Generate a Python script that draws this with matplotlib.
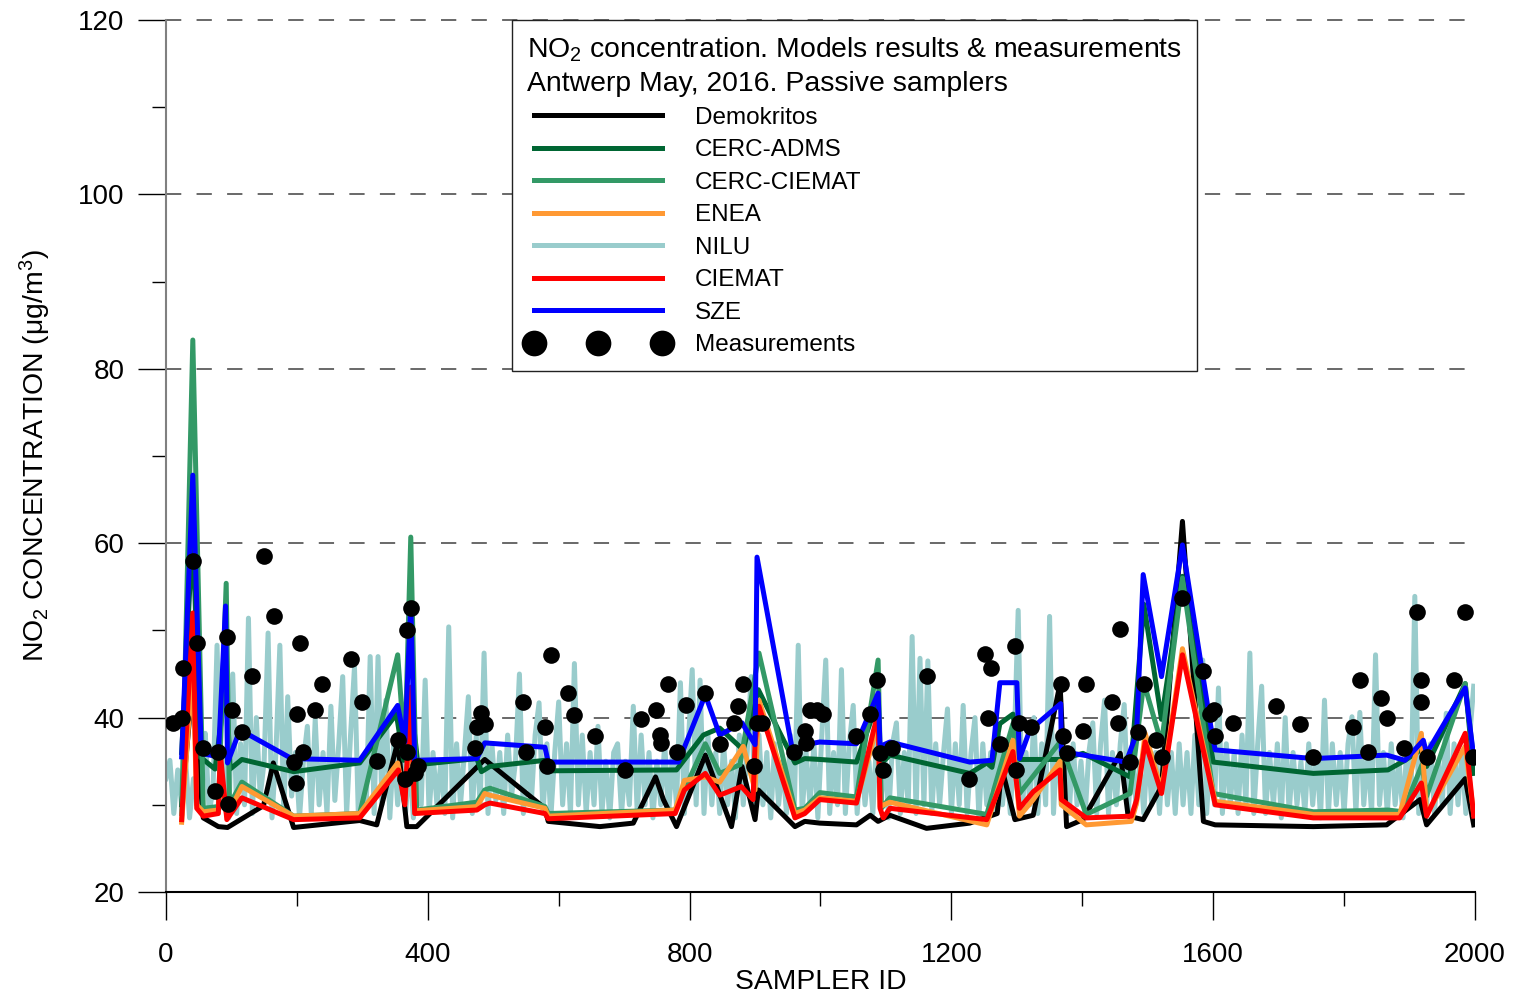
import matplotlib
matplotlib.use("Agg")
import matplotlib.pyplot as plt
from matplotlib.lines import Line2D
from matplotlib.ticker import MultipleLocator
import numpy as np

plt.rcParams['font.family'] = ['Liberation Sans', 'DejaVu Sans']
plt.rcParams['mathtext.fontset'] = 'custom'
plt.rcParams['mathtext.rm'] = 'Liberation Sans'
plt.rcParams['mathtext.it'] = 'Liberation Sans'

# ---------------- data ----------------
meas_id = [11, 24, 26, 41, 47, 56, 75, 80, 93, 94, 101, 116, 131, 149, 165, 195, 199, 200, 205,
           209, 228, 238, 283, 299, 322, 354, 365, 368, 369, 375, 380, 385, 472, 475, 482, 487,
           546, 550, 579, 582, 588, 614, 624, 655, 702, 725, 748, 755, 756, 767, 781, 795, 824,
           847, 868, 874, 882, 899, 903, 910, 960, 976, 978, 984, 994, 1004, 1055, 1076, 1087,
           1091, 1096, 1110, 1162, 1227, 1252, 1256, 1260, 1275, 1297, 1299, 1304, 1322, 1367,
           1370, 1377, 1401, 1406, 1445, 1455, 1458, 1473, 1485, 1494, 1512, 1521, 1553, 1585,
           1595, 1601, 1602, 1630, 1696, 1733, 1753, 1813, 1824, 1836, 1856, 1866, 1891, 1912,
           1918, 1918, 1927, 1968, 1985, 1997]
meas_val = [39.4, 40.0, 45.7, 58.0, 48.6, 36.5, 31.6, 36.0, 49.2, 30.1, 40.9, 38.4, 44.8, 58.5,
            51.7, 34.9, 32.5, 40.4, 48.6, 36.0, 40.9, 43.8, 46.7, 41.8, 35.0, 37.4, 33.0, 36.0,
            50.1, 52.6, 33.6, 34.5, 36.5, 38.9, 40.5, 39.3, 41.8, 36.0, 38.9, 34.5, 47.2, 42.8,
            40.3, 37.9, 34.0, 39.8, 40.9, 38.0, 37.1, 43.8, 36.0, 41.4, 42.8, 37.0, 39.4, 41.3,
            43.8, 34.5, 39.4, 39.4, 36.0, 38.5, 37.1, 40.9, 40.9, 40.4, 37.9, 40.4, 44.3, 35.9,
            34.0, 36.5, 44.8, 33.0, 47.3, 39.9, 45.7, 37.0, 48.2, 34.0, 39.4, 38.9, 43.8, 37.9,
            35.9, 38.5, 43.8, 41.8, 39.4, 50.2, 34.9, 38.4, 43.8, 37.4, 35.5, 53.7, 45.3, 40.4,
            40.9, 37.9, 39.4, 41.3, 39.3, 35.5, 38.9, 44.3, 36.0, 42.3, 39.9, 36.5, 52.1, 44.3,
            41.8, 35.5, 44.3, 52.1, 35.5]

demo_id = [24, 41, 47, 57, 80, 94, 149, 164, 195, 296, 322, 354, 368, 383, 487, 579, 584, 663,
           714, 748, 760, 780, 824, 864, 880, 900, 905, 961, 976, 999, 1055, 1076, 1088, 1106,
           1162, 1228, 1270, 1277, 1297, 1325, 1366, 1376, 1401, 1458, 1470, 1493, 1521, 1553,
           1585, 1603, 1753, 1865, 1916, 1926, 1985, 1998]
demo_val = [30.0, 44.0, 36.7, 28.5, 27.5, 27.4, 29.9, 34.8, 27.4, 28.2, 27.7, 37.2, 27.5, 27.5,
            35.2, 29.6, 28.1, 27.5, 27.9, 33.2, 30.6, 27.5, 35.7, 27.5, 34.4, 28.3, 31.7, 27.5,
            28.1, 27.9, 27.7, 28.8, 28.1, 28.8, 27.3, 27.9, 29.0, 34.2, 28.3, 28.8, 43.9, 27.5,
            28.3, 35.9, 28.7, 28.3, 32.1, 62.5, 28.1, 27.7, 27.5, 27.7, 30.6, 27.7, 33.0, 27.7]

adms_id = [24, 41, 52, 75, 92, 98, 116, 195, 296, 352, 363, 374, 385, 475, 482, 495, 579, 584,
           780, 821, 846, 882, 905, 961, 976, 999, 1055, 1088, 1091, 1106, 1228, 1254, 1262, 1274,
           1294, 1304, 1366, 1401, 1473, 1494, 1521, 1553, 1600, 1753, 1867, 1893, 1921, 1926,
           1985, 1998]
adms_val = [36.0, 62.0, 35.5, 34.1, 44.0, 34.1, 35.2, 33.8, 34.8, 40.4, 35.1, 42.0, 34.6, 35.3,
            33.8, 34.4, 35.1, 33.9, 34.0, 38.0, 38.8, 36.3, 43.2, 34.8, 35.3, 35.2, 34.9, 42.0,
            34.6, 35.7, 33.6, 34.8, 34.3, 39.3, 40.4, 35.2, 35.2, 35.9, 33.2, 53.0, 39.8, 56.2,
            34.9, 33.6, 34.0, 35.1, 36.5, 34.4, 43.9, 33.6]

cerc_id = [24, 41, 57, 80, 92, 97, 116, 195, 296, 354, 365, 374, 383, 475, 487, 495, 579, 584,
           778, 824, 846, 877, 906, 961, 976, 999, 1055, 1088, 1093, 1106, 1254, 1294, 1304,
           1366, 1406, 1473, 1494, 1521, 1553, 1600, 1753, 1867, 1890, 1919, 1926, 1985, 1998]
cerc_val = [29.0, 83.3, 29.6, 29.8, 55.4, 30.0, 32.6, 28.7, 29.0, 47.2, 36.0, 60.7, 29.4, 30.3,
            31.7, 31.9, 29.8, 29.0, 29.4, 37.0, 33.6, 34.6, 47.4, 29.4, 29.6, 31.4, 30.9, 46.6,
            29.6, 30.8, 28.9, 39.3, 31.3, 37.2, 28.9, 31.3, 44.0, 37.0, 56.0, 31.3, 29.2, 29.4,
            29.2, 34.6, 31.0, 43.9, 35.0]

enea_id = [24, 41, 47, 57, 80, 83, 93, 116, 195, 296, 354, 365, 374, 380, 475, 487, 495, 579,
           584, 778, 792, 824, 846, 882, 900, 906, 961, 976, 999, 1055, 1081, 1088, 1091, 1106,
           1254, 1274, 1294, 1304, 1325, 1366, 1368, 1406, 1475, 1483, 1496, 1521, 1553, 1603,
           1753, 1885, 1918, 1926, 1985, 1998]
enea_val = [28.0, 46.0, 30.0, 29.2, 29.4, 34.0, 28.7, 32.1, 28.7, 29.0, 34.8, 30.5, 40.0, 29.3,
            29.8, 31.3, 31.1, 29.6, 28.7, 29.4, 32.8, 33.2, 32.6, 36.7, 31.7, 42.0, 29.0, 29.4,
            30.8, 30.4, 37.5, 40.0, 29.8, 30.3, 27.7, 32.5, 37.4, 28.7, 30.6, 35.0, 30.0, 27.7,
            28.1, 30.2, 38.2, 31.7, 47.9, 30.4, 28.9, 28.9, 38.2, 28.9, 36.7, 28.9]

ciemat_id = [24, 41, 47, 57, 80, 83, 93, 116, 195, 296, 355, 365, 374, 380, 475, 487, 495, 579,
             584, 778, 792, 824, 846, 879, 897, 900, 906, 961, 976, 999, 1055, 1081, 1088, 1091,
             1096, 1106, 1254, 1274, 1294, 1304, 1325, 1366, 1368, 1406, 1475, 1483, 1496, 1521,
             1553, 1603, 1753, 1885, 1918, 1926, 1985, 1998]
ciemat_val = [28.3, 52.0, 29.6, 28.7, 29.0, 35.9, 28.3, 30.8, 28.3, 28.5, 34.0, 30.0, 43.5, 29.0,
              29.4, 30.0, 30.2, 29.0, 28.4, 29.0, 31.7, 33.6, 31.1, 32.1, 30.6, 37.0, 41.3, 28.5,
              29.0, 30.6, 30.2, 38.5, 40.5, 29.6, 28.5, 29.6, 28.3, 32.1, 36.1, 29.6, 31.5, 34.0,
              30.6, 28.5, 28.7, 30.6, 37.2, 31.3, 47.2, 30.0, 28.5, 28.5, 32.5, 28.7, 38.2, 28.7]

sze_id = [24, 41, 54, 80, 91, 94, 113, 192, 296, 354, 365, 374, 380, 475, 487, 579, 584, 783,
          824, 846, 880, 900, 903, 958, 976, 999, 1055, 1088, 1091, 1106, 1228, 1262, 1274, 1300,
          1304, 1320, 1367, 1368, 1385, 1467, 1483, 1493, 1521, 1553, 1598, 1603, 1753, 1865,
          1893, 1921, 1926, 1985, 1998]
sze_val = [35.5, 67.8, 35.9, 35.5, 52.8, 34.8, 38.6, 35.3, 35.1, 41.4, 37.2, 53.0, 35.1, 35.3,
           37.1, 36.6, 34.9, 34.9, 42.6, 38.0, 39.4, 36.9, 58.4, 35.9, 36.9, 37.2, 37.0, 42.8,
           36.7, 37.2, 34.9, 35.1, 44.0, 44.0, 35.3, 38.6, 41.6, 36.1, 35.9, 34.9, 38.2, 56.4,
           44.7, 59.8, 38.2, 36.3, 35.3, 35.7, 35.1, 37.4, 35.9, 43.4, 35.5]

# NILU: one value every 6 sampler IDs (0, 6, 12, ... 1998)
nilu_step = 6
nilu_val = [
    33, 35.1, 29, 34, 30, 35, 28.5, 33, 30, 36,
    38.2, 29, 32, 48.3, 30, 36, 28.5, 45, 29, 37,
    30, 51.4, 29, 40, 31, 35, 49.7, 28.5, 36, 48.3,
    29, 42.4, 31, 36, 28.5, 35, 39, 29, 39.8, 30,
    36, 29, 41.3, 30.5, 37, 44.7, 29, 38, 45.8, 28.5,
    35, 30, 47, 29, 47, 30, 42, 28.5, 37, 30,
    36, 29, 35, 28.5, 34, 30, 44.3, 29, 36, 30,
    35, 29, 50.4, 28.5, 37, 30, 36, 42.4, 29, 38,
    30, 47.4, 29, 37, 30.5, 36, 29, 38, 31, 35,
    45, 29, 36, 30, 38, 41.7, 29, 37, 28.5, 36,
    41.8, 30, 37, 29, 46.2, 30, 38, 29, 36, 30,
    39, 29, 35, 28.5, 36, 37, 29, 35, 30, 41.3,
    29, 38, 30, 36, 28.5, 35, 30, 37, 29, 36,
    30, 44, 29, 37, 45.5, 30, 44.3, 29, 38, 30,
    36, 29, 37, 30, 35, 28.5, 38, 30, 36, 44.7,
    29, 38, 30, 36, 28.5, 37, 30, 35, 29, 38,
    30, 48.3, 29, 36, 30, 37, 28.5, 38, 46.6, 29,
    36, 30, 45.5, 29, 37, 41.4, 29, 36, 30, 35,
    29, 38, 30, 36, 28.5, 37, 39.4, 29, 36, 30,
    49.3, 29, 46.8, 30, 46.5, 29, 37, 30, 36, 41,
    29, 37, 30, 41.4, 29, 36, 40, 28.5, 37, 30,
    36, 29, 38, 30, 35, 29, 37, 52.3, 29, 36,
    30, 40, 29, 37, 30, 51.6, 29, 38, 30, 36,
    29, 37, 30, 35, 28.5, 36, 39.4, 29, 37, 42,
    29, 36, 30, 37, 41.5, 29, 36, 30, 35, 29,
    37, 30, 36, 29, 38, 30, 36, 29, 37, 30,
    36, 29, 38, 30, 46.6, 29, 37, 30, 43.4, 29,
    37, 30, 36, 29, 38, 30, 47.4, 29, 37, 43.6,
    29, 36, 30, 37, 28.5, 40, 29, 36, 30, 35,
    29, 37, 30, 36, 28.5, 42, 29, 37, 30, 36,
    29, 37, 40.1, 29, 40.6, 30, 36, 29, 47.2, 30,
    36, 29, 37, 30, 35, 28.5, 37, 30, 53.9, 29,
    36, 30, 37, 29, 35, 30, 40.5, 29, 37, 30,
    36, 29, 38, 43.6]
nilu_id = [i * nilu_step for i in range(len(nilu_val))]

x_ticks = [0, 400, 800, 1200, 1600, 2000]
y_ticks = [20, 40, 60, 80, 100, 120]

# ---------------- figure ----------------
fig = plt.figure(figsize=(15.13, 9.98), dpi=100)
ax = fig.add_axes([0.1097, 0.1062, 0.9749 - 0.1097, 0.98 - 0.1062])

lw = 3.6
ax.plot(nilu_id, nilu_val, color='#99CCCC', lw=lw, zorder=2, solid_joinstyle='round')
ax.plot(demo_id, demo_val, color='black', lw=lw, zorder=3)
ax.plot(adms_id, adms_val, color='#006633', lw=lw, zorder=4)
ax.plot(cerc_id, cerc_val, color='#339966', lw=lw, zorder=4)
ax.plot(enea_id, enea_val, color='#FF9933', lw=lw, zorder=5)
ax.plot(ciemat_id, ciemat_val, color='#FF0000', lw=lw, zorder=6)
ax.plot(sze_id, sze_val, color='#0000FF', lw=lw, zorder=7)
ax.plot(meas_id, meas_val, 'o', color='black', ms=12, zorder=8, markeredgewidth=0)

ax.set_xlim(0, 2000)
ax.set_ylim(20, 120)
ax.set_xticks(x_ticks)
ax.set_yticks(y_ticks)
ax.xaxis.set_minor_locator(MultipleLocator(200))
ax.yaxis.set_minor_locator(MultipleLocator(10))
ax.tick_params(axis='both', which='major', direction='out', length=20, width=1,
               labelsize=20, color='black')
ax.tick_params(axis='y', which='major', pad=10)
ax.tick_params(axis='x', which='major', pad=16)
ax.tick_params(axis='both', which='minor', direction='out', length=10, width=1, color='black')

for s in ['top', 'right']:
    ax.spines[s].set_visible(False)
ax.spines['left'].set_color('#808080')
ax.spines['left'].set_linewidth(1.5)
ax.spines['bottom'].set_color('black')
ax.spines['bottom'].set_linewidth(1.5)
ax.spines['bottom'].set_bounds(0, 2000)

for yv in y_ticks[1:]:
    ax.axhline(yv, color='#404040', lw=1.1, ls=(0, (10, 10)), zorder=1, clip_on=False)

ax.set_xlabel('SAMPLER ID', fontsize=20.3, labelpad=1)
ax.set_ylabel('NO$_2$ CONCENTRATION ($\\mu$g/m$^3$)', fontsize=20.4, labelpad=18)

handles = [
    Line2D([], [], color='black', lw=lw),
    Line2D([], [], color='#006633', lw=lw),
    Line2D([], [], color='#339966', lw=lw),
    Line2D([], [], color='#FF9933', lw=lw),
    Line2D([], [], color='#99CCCC', lw=lw),
    Line2D([], [], color='#FF0000', lw=lw),
    Line2D([], [], color='#0000FF', lw=lw),
    Line2D([], [], color='black', marker='o', ls='none', ms=18.5, markeredgewidth=0),
]
labels = ['Demokritos', 'CERC-ADMS', 'CERC-CIEMAT', 'ENEA', 'NILU', 'CIEMAT', 'SZE', 'Measurements']
leg = ax.legend(handles, labels, loc='upper left', bbox_to_anchor=(0.264, 1.0),
                fontsize=17.5, numpoints=3, handlelength=5.85, handletextpad=1.07,
                labelspacing=0.43, borderpad=0.62, borderaxespad=0,
                fancybox=False, framealpha=1, edgecolor='#222222',
                title='NO$_2$ concentration. Models results & measurements\nAntwerp May, 2016. Passive samplers',
                title_fontsize=20.4, alignment='left')
leg.get_title().set_linespacing(1.35)
leg.get_frame().set_linewidth(1.0)
leg.set_zorder(20)

fig.savefig('out.png', dpi=100)
